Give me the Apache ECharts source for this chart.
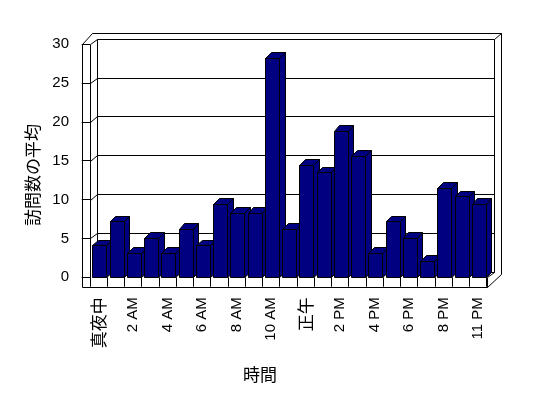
<!DOCTYPE html>
<html><head><meta charset="utf-8">
<script src="https://cdn.jsdelivr.net/npm/echarts@6/dist/echarts.min.js"></script>
<style>html,body{margin:0;padding:0;background:#fff}#c{width:548px;height:398px}</style>
</head><body><div id="c"></div>
<script>
const categories = ['真夜中','1 AM','2 AM','3 AM','4 AM','5 AM','6 AM','7 AM','8 AM','9 AM','10 AM','11 AM',
  '正午','1 PM','2 PM','3 PM','4 PM','5 PM','6 PM','7 PM','8 PM','10 PM','11 PM'];
const values = [4.1,7.2,3.1,5.1,3.1,6.2,4.1,9.4,8.3,8.3,28.2,6.2,14.5,13.5,18.8,15.6,3.1,7.2,5.1,2.1,11.5,10.4,9.4];
const yTicks = [0,5,10,15,20,25,30];
const yName = '訪問数の平均';
const xName = '時間';

const chart = echarts.init(document.getElementById('c'), null, {renderer:'canvas'});
const P = (x,y) => [Math.round(x)+0.5, Math.round(y)+0.5];
const lineStyle = {stroke:'#000', fill:null, lineWidth:1};
const DX = 7, DY = -5.3, TW = 8.3, FH = 9.4;

function renderFrame(params, api){
  const cs = params.coordSys;
  const L = cs.x, R = cs.x + cs.width, T = cs.y, B = cs.y + cs.height;
  const pl = pts => ({type:'polyline', shape:{points:pts.map(p=>P(p[0],p[1]))}, style:lineStyle});
  const ch = [];
  ch.push(pl([[L-TW,B+FH],[L-TW,T],[L+2,T-11],[R+DX+7.4,T-11],[R+DX+7.4,B-3],[R,B+FH],[L-TW,B+FH]]));
  ch.push(pl([[L,T],[L+DX,T+DY],[R+DX,T+DY],[R+DX+7.4,T-11]]));
  ch.push(pl([[L+DX,T+DY],[L+DX,B+DY],[R+DX,B+DY],[R+DX,T+DY]]));
  ch.push(pl([[R,B],[R+DX,B+DY]]));
  ch.push(pl([[L-TW,B],[L,B]]));
  ch.push(pl([[R,B],[R,B+FH]]));
  ch.push(pl([[L,B],[L,T]]));
  yTicks.forEach(v => {
    if (v <= 0 || v >= 30) return;
    const y = api.coord([0, v])[1];
    ch.push(pl([[L,y],[L+DX,y+DY],[R+DX,y+DY]]));
  });
  return {type:'group', children: ch};
}

function renderBar(params, api){
  const i = api.value(0), v = api.value(1);
  const top = api.coord([i, v]);
  const base = api.coord([i, 0]);
  const w = 14, bd = 5.7;
  const x0 = top[0] - 7 + 0.7, x1 = x0 + w, yt = top[1], yb = base[1];
  const st = {fill:'#000080', stroke:'#000', lineWidth:1};
  const poly = pts => ({type:'polygon', shape:{points:pts.map(p=>P(p[0],p[1]))}, style:st});
  return {type:'group', children:[
    poly([[x1,yt],[x1+bd,yt-bd],[x1+bd,yb-bd],[x1,yb]]),
    poly([[x0,yt],[x1,yt],[x1+bd,yt-bd],[x0+bd,yt-bd]]),
    poly([[x0,yt],[x1,yt],[x1,yb],[x0,yb]])
  ]};
}

const isCJK = s => /[^\x00-\x7F]/.test(s);

chart.setOption({
  backgroundColor:'#fff',
  animation:false,
  grid:{left:90, right:61.3, top:44, bottom:120.7},
  xAxis:{
    type:'category', data:categories, boundaryGap:true,
    axisLine:{show:false},
    axisTick:{show:true, interval:0, length:9.4, alignWithLabel:false, lineStyle:{color:'#000', width:1}},
    axisLabel:{interval:1, rotate:90, margin:20, color:'#000', fontSize:15, fontFamily:'Liberation Sans',
      formatter: s => isCJK(s) ? '{j|'+s+'}' : s,
      rich:{j:{fontSize:17, fontFamily:'Noto Sans CJK JP', color:'#000'}}},
    splitLine:{show:false}
  },
  yAxis:{
    type:'value', min:0, max:30, interval:5,
    axisLine:{show:false},
    axisTick:{show:true, length:8.3, lineStyle:{color:'#000', width:1}},
    axisLabel:{margin:21, color:'#000', fontSize:15, fontFamily:'Liberation Sans'},
    splitLine:{show:false}
  },
  graphic:[
    {type:'text', x:33, y:175, rotation:Math.PI/2,
      style:{text:yName, font:'17px "Noto Sans CJK JP"', fill:'#000', align:'center', verticalAlign:'middle'}},
    {type:'text', x:260, y:375,
      style:{text:xName, font:'17px "Noto Sans CJK JP"', fill:'#000', align:'center', verticalAlign:'middle'}}
  ],
  series:[
    {type:'custom', renderItem:renderFrame, data:[[0,0]], z:1, silent:true},
    {type:'custom', renderItem:renderBar, data:values.map((v,i)=>[i,v]), z:2,
      encode:{x:0, y:1}}
  ]
});
</script></body></html>
